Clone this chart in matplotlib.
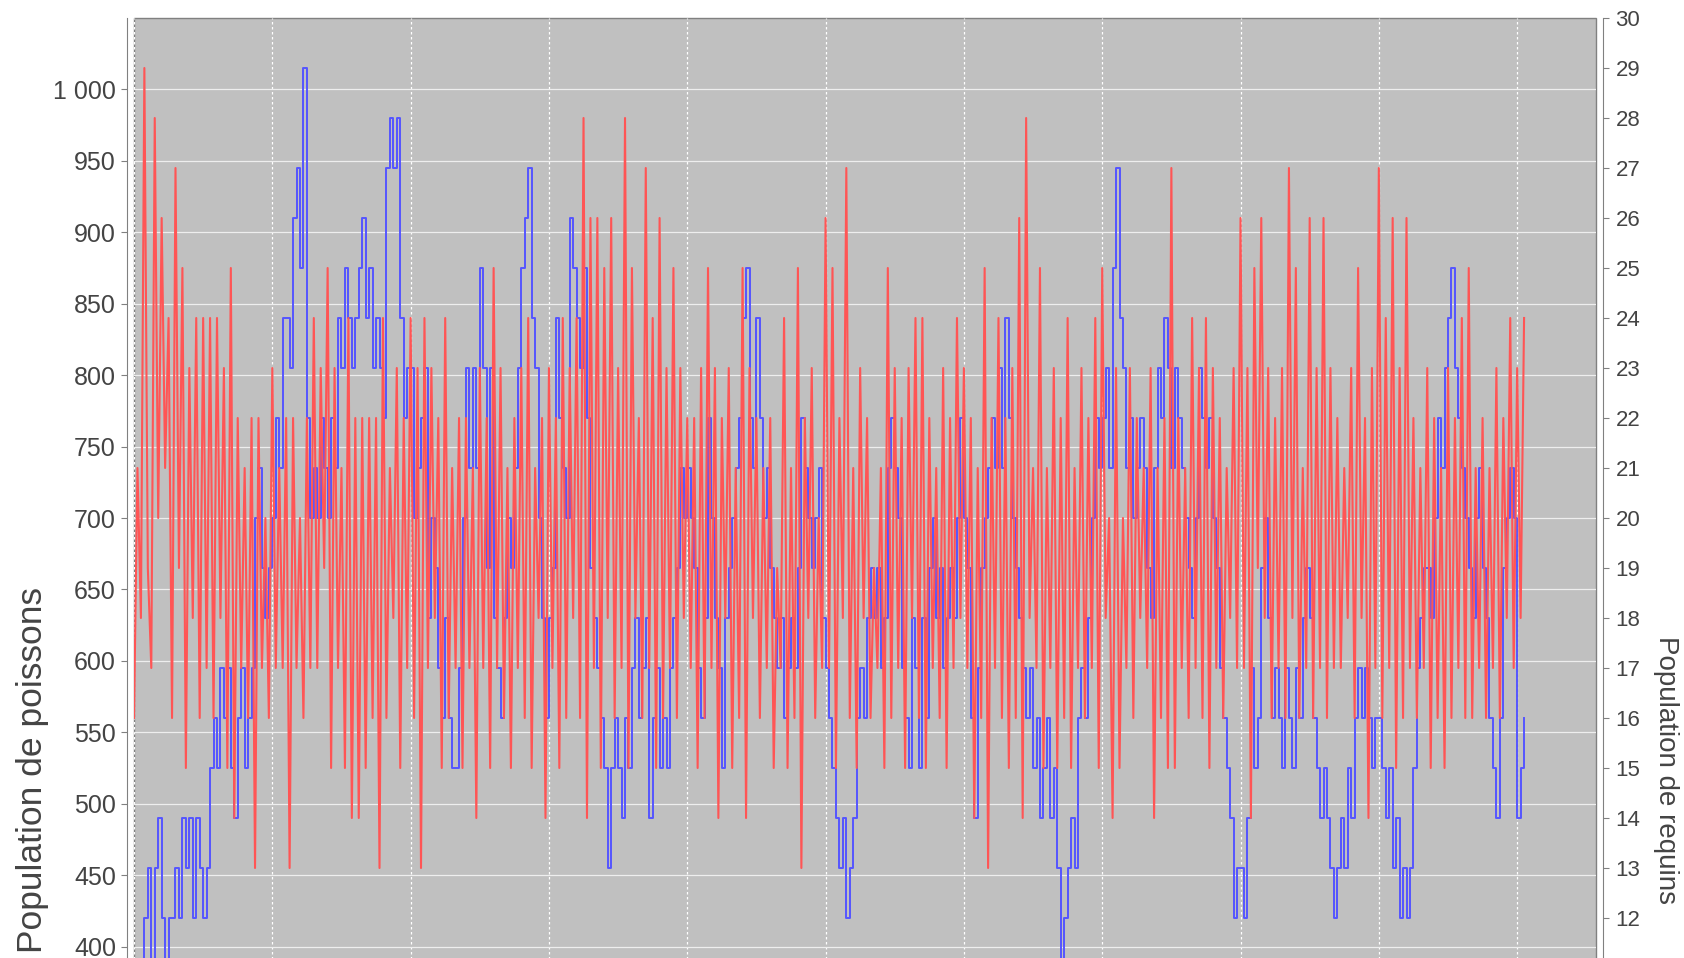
import matplotlib.pyplot as plt
import numpy as np
from matplotlib.ticker import FuncFormatter, MultipleLocator

plt.rcParams['font.family'] = ['Liberation Sans', 'DejaVu Sans']

# pas de temps entre deux relevés
dt = 2.5

# population de poissons (axe de gauche), 40 relevés par tranche de 100
poissons = [
    # 0 - 100
    385, 385, 385, 420, 455, 385, 455, 490, 420, 385,
    420, 420, 455, 420, 490, 455, 490, 420, 490, 455,
    420, 455, 525, 560, 525, 595, 560, 595, 525, 490,
    560, 595, 525, 560, 595, 700, 735, 665, 630, 665,
    # 100 - 200
    700, 770, 735, 840, 840, 805, 910, 945, 875, 1015,
    770, 700, 735, 700, 770, 735, 700, 770, 735, 840,
    805, 875, 840, 805, 840, 875, 910, 840, 875, 805,
    840, 805, 770, 945, 980, 945, 980, 840, 770, 805,
    # 200 - 300
    805, 700, 735, 770, 805, 630, 700, 665, 595, 560,
    630, 560, 525, 525, 595, 700, 805, 735, 805, 735,
    875, 805, 665, 805, 630, 595, 560, 630, 700, 665,
    735, 805, 875, 910, 945, 840, 805, 700, 630, 560,
    # 300 - 400
    630, 665, 840, 770, 735, 700, 910, 875, 840, 805,
    875, 770, 665, 630, 595, 560, 525, 455, 525, 560,
    525, 490, 560, 525, 595, 630, 560, 595, 630, 490,
    560, 595, 525, 560, 525, 595, 630, 665, 735, 700,
    # 400 - 500
    735, 700, 665, 595, 560, 630, 770, 700, 630, 595,
    525, 630, 665, 700, 735, 770, 840, 875, 770, 735,
    840, 770, 700, 735, 665, 630, 595, 630, 560, 595,
    630, 595, 665, 770, 735, 700, 665, 700, 735, 630,
    # 500 - 600
    595, 560, 525, 490, 455, 490, 420, 455, 490, 560,
    595, 560, 630, 665, 630, 665, 595, 630, 735, 770,
    735, 700, 595, 560, 525, 630, 595, 525, 630, 560,
    665, 700, 630, 665, 595, 630, 665, 630, 700, 770,
    # 600 - 700
    700, 665, 560, 490, 595, 665, 700, 735, 770, 735,
    805, 735, 840, 770, 700, 665, 630, 595, 560, 595,
    525, 560, 490, 525, 560, 490, 525, 455, 385, 420,
    455, 490, 455, 560, 595, 560, 630, 700, 770, 735,
    # 700 - 800
    770, 805, 735, 875, 945, 840, 805, 735, 770, 700,
    735, 770, 735, 665, 630, 735, 805, 770, 840, 805,
    735, 805, 770, 735, 700, 665, 630, 700, 805, 770,
    735, 770, 700, 665, 595, 560, 525, 490, 420, 455,
    # 800 - 900
    455, 420, 490, 595, 525, 560, 665, 700, 630, 560,
    595, 560, 525, 595, 560, 525, 595, 560, 630, 665,
    630, 560, 525, 490, 525, 490, 455, 420, 455, 490,
    455, 525, 490, 560, 595, 560, 595, 560, 525, 560,
    # 900 - 1005
    560, 525, 490, 525, 455, 490, 420, 455, 420, 455,
    525, 595, 630, 665, 665, 630, 700, 770, 735, 805,
    840, 875, 805, 770, 735, 700, 665, 630, 700, 735,
    665, 630, 560, 525, 490, 560, 665, 700, 735, 700,
    490, 525, 560,
]

# population de requins (axe de droite)
requins = [
    # 0 - 100
    16, 21, 18, 29, 19, 17, 28, 20, 26, 21, 24, 16, 27, 19, 25, 15, 23, 18, 24, 16,
    24, 17, 24, 16, 24, 18, 23, 15, 25, 14, 22, 17, 21, 16, 22, 13, 22, 17, 20, 16,
    # 100 - 200
    23, 17, 21, 17, 22, 13, 22, 17, 20, 16, 22, 17, 24, 17, 23, 19, 25, 15, 23, 17,
    21, 15, 24, 14, 22, 14, 22, 15, 22, 16, 22, 13, 24, 16, 21, 18, 23, 15, 22, 17,
    # 200 - 300
    24, 16, 23, 13, 24, 17, 23, 18, 22, 15, 24, 16, 21, 17, 22, 15, 22, 17, 21, 14,
    23, 17, 22, 15, 25, 17, 23, 16, 21, 15, 22, 17, 23, 16, 24, 15, 21, 18, 22, 14,
    # 300 - 400
    23, 17, 22, 15, 24, 16, 23, 18, 24, 16, 28, 14, 26, 17, 26, 15, 25, 18, 26, 16,
    23, 17, 28, 15, 25, 18, 22, 16, 27, 17, 24, 15, 26, 16, 23, 17, 25, 16, 23, 18,
    # 400 - 500
    22, 17, 22, 15, 23, 16, 25, 17, 23, 14, 22, 18, 23, 15, 21, 16, 25, 14, 23, 18,
    22, 16, 21, 17, 22, 15, 19, 17, 24, 15, 21, 16, 25, 13, 22, 18, 23, 16, 20, 17,
    # 500 - 600
    26, 17, 25, 15, 22, 18, 27, 16, 21, 15, 23, 18, 22, 16, 19, 17, 21, 15, 25, 16,
    23, 17, 22, 15, 23, 18, 24, 16, 24, 15, 22, 17, 21, 16, 23, 15, 22, 17, 24, 18,
    # 600 - 700
    23, 17, 22, 14, 21, 16, 25, 13, 22, 17, 24, 16, 22, 15, 23, 16, 26, 14, 28, 18,
    21, 17, 25, 15, 21, 17, 23, 15, 22, 16, 24, 15, 21, 17, 23, 16, 22, 17, 24, 15,
    # 700 - 800
    25, 18, 20, 14, 23, 15, 20, 17, 23, 16, 22, 18, 21, 17, 23, 14, 21, 16, 22, 15,
    27, 15, 22, 17, 21, 16, 24, 17, 23, 16, 24, 15, 23, 17, 22, 16, 21, 18, 23, 17,
    # 800 - 900
    26, 17, 23, 14, 25, 19, 26, 18, 23, 16, 22, 17, 23, 16, 27, 18, 25, 16, 21, 17,
    26, 16, 23, 17, 26, 16, 23, 17, 22, 17, 21, 18, 23, 16, 25, 18, 22, 14, 23, 17,
    # 900 - 1005
    27, 16, 24, 17, 26, 15, 23, 16, 26, 17, 22, 16, 21, 17, 23, 15, 22, 16, 21, 15,
    23, 16, 22, 17, 24, 16, 25, 16, 21, 17, 22, 16, 21, 17, 23, 16, 22, 18, 24, 17,
    23, 18, 24,
]

t_poissons = np.arange(len(poissons)) * dt
t_requins = np.arange(len(requins)) * dt

fig = plt.figure(figsize=(16.84, 9.58), dpi=100)
W, H = 1684, 958
# zone de tracé : x 134..1596 px, y 18..1518 px (le bas sort de l'image)
ax = fig.add_axes([134 / W, (H - 1518) / H, 1462 / W, 1500 / H])
ax2 = ax.twinx()

gris = '#808080'
texte = '#444444'

ax.set_facecolor('#c0c0c0')
ax.patch.set_edgecolor(gris)
ax.patch.set_linewidth(1.0)

ax.step(t_poissons, poissons, where='post', color='#5555ff', lw=1.4)
ax2.plot(t_requins, requins, color='#ff5555', lw=1.5)

ax.set_xlim(0, 1057)
ax.set_ylim(0, 1050)
ax2.set_ylim(0, 30)

ax.xaxis.set_major_locator(MultipleLocator(100))
ax.set_yticks(np.arange(400, 1001, 50))
ax2.set_yticks(np.arange(12, 31, 1))
ax.yaxis.set_major_formatter(
    FuncFormatter(lambda v, p: f"{int(v):,}".replace(",", " ")))

ax.grid(axis='x', color='white', lw=0.9, ls=(0, (2, 2)))
ax.grid(axis='y', color='#eeeeee', lw=0.9, ls='-')
ax.set_axisbelow(True)

ax.tick_params(axis='x', length=0, labelbottom=False)
ax.tick_params(axis='y', direction='out', length=4, width=0.8, color=gris,
               labelsize=18, labelcolor=texte, pad=4)
ax2.tick_params(axis='y', direction='out', length=4, width=0.8, color=gris,
                labelsize=16, labelcolor=texte, pad=5)

for s in ['top', 'right', 'bottom']:
    ax.spines[s].set_visible(False)
for s in ['top', 'left', 'bottom']:
    ax2.spines[s].set_visible(False)
ax.spines['left'].set_position(('outward', 5))
ax.spines['left'].set_color(gris)
ax2.spines['right'].set_position(('outward', 5))
ax2.spines['right'].set_color(gris)

ycentre = (H - 770) / H
fig.text(33 / W, ycentre, "Population de poissons", rotation=90,
         ha='center', va='center', fontsize=25.5, color=texte)
fig.text(1666 / W, ycentre, "Population de requins", rotation=270,
         ha='center', va='center', fontsize=20, color=texte)

fig.savefig('out.png', dpi=100)
